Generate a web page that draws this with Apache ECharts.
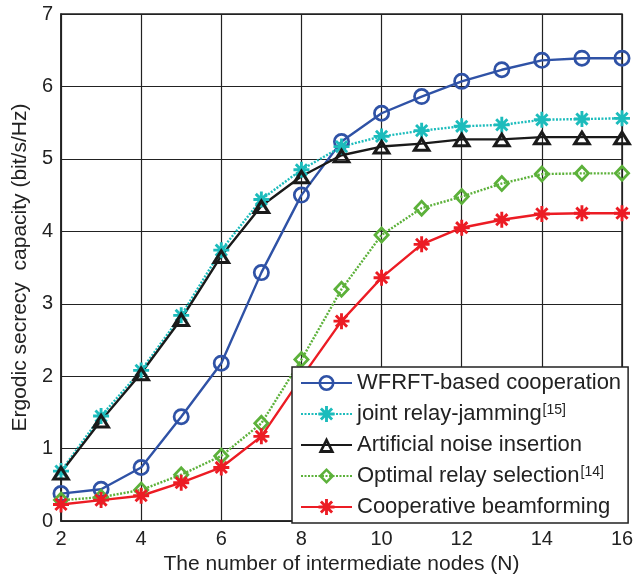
<!DOCTYPE html>
<html>
<head>
<meta charset="utf-8">
<script src="https://cdn.jsdelivr.net/npm/echarts@6/dist/echarts.min.js"></script>
<style>
  html, body { margin: 0; padding: 0; background: #fff; }
  #box { width: 642px; height: 580px; }
</style>
</head>
<body>
<div id="box"></div>
<script>
// number of intermediate nodes
const nodes = [2, 3, 4, 5, 6, 7, 8, 9, 10, 11, 12, 13, 14, 15, 16];

const wfrft   = [0.38, 0.44, 0.74, 1.44, 2.18, 3.43, 4.50, 5.24, 5.63, 5.86, 6.07, 6.23, 6.36, 6.39, 6.39];
const jamming = [0.69, 1.45, 2.08, 2.84, 3.74, 4.44, 4.85, 5.17, 5.31, 5.39, 5.45, 5.47, 5.54, 5.55, 5.56];
const noise   = [0.67, 1.39, 2.04, 2.79, 3.66, 4.35, 4.76, 5.05, 5.17, 5.21, 5.27, 5.27, 5.30, 5.30, 5.30];
const relaySel = [0.29, 0.33, 0.43, 0.64, 0.90, 1.35, 2.23, 3.20, 3.95, 4.32, 4.48, 4.66, 4.79, 4.80, 4.80];
const beamform = [0.23, 0.29, 0.35, 0.53, 0.74, 1.17, 1.98, 2.76, 3.36, 3.82, 4.05, 4.16, 4.24, 4.25, 4.25];

const names = [
  'WFRFT-based cooperation',
  'joint relay-jamming',
  'Artificial noise insertion',
  'Optimal relay selection',
  'Cooperative beamforming'
];

// hollow marker shapes (ring style, like matlab markers)
const ring = 'path://M0,10 A10,10 0 1,0 20,10 A10,10 0 1,0 0,10 Z M3.2,10 A6.8,6.8 0 1,1 16.8,10 A6.8,6.8 0 1,1 3.2,10 Z';
const tri = 'path://M10,0 L20,17.32 L0,17.32 Z M10,6.4 L5.55,14.12 L14.45,14.12 Z';
const dia = 'path://M10,0 L20,10 L10,20 L0,10 Z M10,4.53 L4.53,10 L10,15.47 L15.47,10 Z';
const star = 'path://M4.1,0 L5.9,0 L5.9,10 L4.1,10 Z M0,4.1 L10,4.1 L10,5.9 L0,5.9 Z ' +
  'M2.14,0.86 L9.14,7.86 L7.86,9.14 L0.86,2.14 Z M7.86,0.86 L9.14,2.14 L2.14,9.14 L0.86,7.86 Z';

function pairs(ys) {
  return nodes.map((x, i) => [x, ys[i]]);
}

function mkSeries(name, ys, color, symbol, size, dash) {
  return {
    name: name,
    type: 'line',
    data: pairs(ys),
    symbol: symbol,
    symbolSize: size,
    color: color,
    lineStyle: { color: color, width: 2.4, type: dash ? [2, 1.5] : 'solid' },
    itemStyle: { color: color },
    emphasis: { disabled: true }
  };
}

const txt = '#222';
const font = '"Liberation Sans", Arial, sans-serif';

let mychart = echarts.init(document.getElementById('box'));
let options = {
  backgroundColor: '#fff',
  animation: false,
  grid: {
    left: 61, right: 20, top: 14, bottom: 58,
    show: true, borderColor: '#222', borderWidth: 1.5
  },
  xAxis: {
    type: 'value', min: 2, max: 16, interval: 2,
    name: 'The number of intermediate nodes (N)',
    nameLocation: 'middle', nameGap: 31,
    nameTextStyle: { fontSize: 21, color: txt, fontFamily: font },
    axisLine: { lineStyle: { color: '#222', width: 1.5 } },
    axisTick: { show: false },
    axisLabel: { fontSize: 20, color: txt, fontFamily: font, margin: 8 },
    splitLine: { lineStyle: { color: '#222', width: 1.2 } }
  },
  yAxis: {
    type: 'value', min: 0, max: 7, interval: 1,
    name: 'Ergodic secrecy  capacity (bit/s/Hz)',
    nameLocation: 'middle', nameGap: 27,
    nameTextStyle: { fontSize: 21, color: txt, fontFamily: font },
    axisLine: { show: true, lineStyle: { color: '#222', width: 1.5 } },
    axisTick: { show: false },
    axisLabel: { fontSize: 20, color: txt, fontFamily: font, margin: 8 },
    splitLine: { lineStyle: { color: '#222', width: 1.2 } }
  },
  legend: {
    orient: 'vertical',
    left: 292, top: 367,
    padding: [5, 7, 5, 8],
    itemGap: 9,
    itemWidth: 51,
    itemHeight: 20,
    backgroundColor: '#fff',
    borderColor: '#222',
    borderWidth: 1.5,
    borderRadius: 0,
    data: names,
    formatter: function (name) {
      if (name === names[1]) return '{n|' + name + '}{s|[15]}';
      if (name === names[3]) return '{n|' + name + '}{s|[14]}';
      return '{n|' + name + '}';
    },
    textStyle: {
      color: txt, fontFamily: font, fontSize: 22,
      rich: {
        n: { fontSize: 22, color: txt, fontFamily: font },
        s: { fontSize: 14, color: txt, fontFamily: font, padding: [0, 0, 8, 1] }
      }
    }
  },
  series: [
    mkSeries(names[0], wfrft, '#2f52a6', ring, 17, false),
    mkSeries(names[1], jamming, '#1cbcbc', star, 16, true),
    mkSeries(names[2], noise, '#1a1a1a', tri, [20, 16], false),
    mkSeries(names[3], relaySel, '#5cb13a', dia, [17, 18], true),
    mkSeries(names[4], beamform, '#ec1c24', star, 16, false)
  ]
};
mychart.setOption(options);
</script>
</body>
</html>
